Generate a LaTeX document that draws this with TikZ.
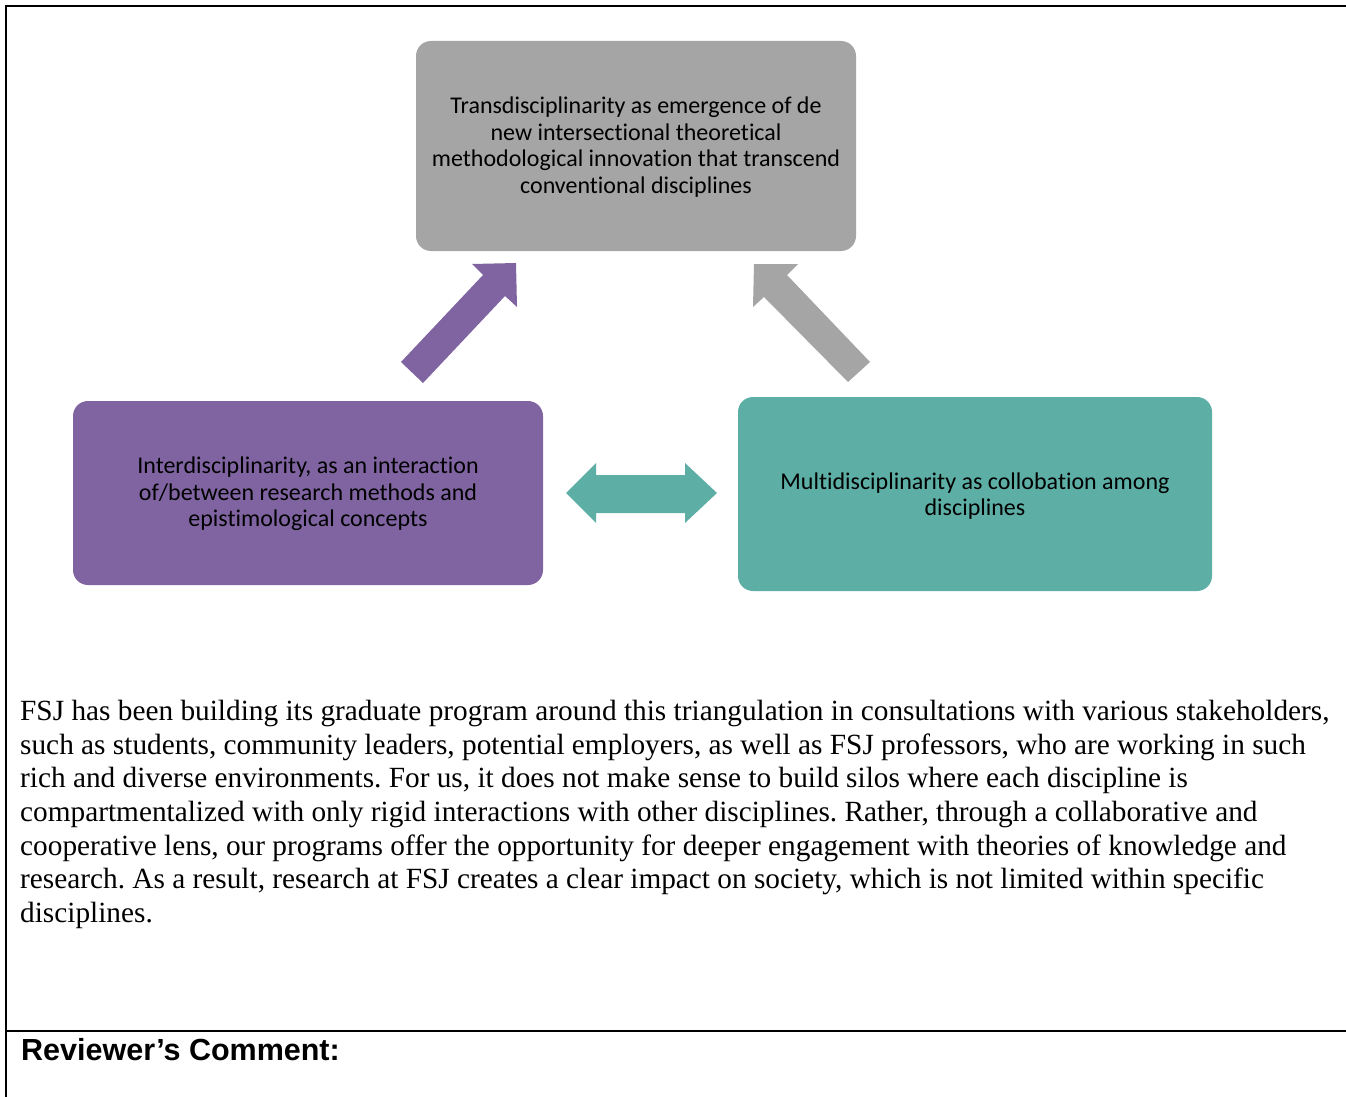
\documentclass[tikz,border=0pt]{standalone}
\usepackage{fontspec}
\setmainfont{Liberation Serif}
\newfontfamily\boxfont[Ligatures={NoCommon},Contextuals={NoAlternate}]{Carlito}
\newfontfamily\headfont{Liberation Sans}
\frenchspacing
\begin{document}
\begin{tikzpicture}[x=1pt,y=-1pt]
\definecolor{grayc}{HTML}{A5A5A5}
\definecolor{purc}{HTML}{8064A2}
\definecolor{tealc}{HTML}{5DAEA5}
\tikzset{
  card/.style={rounded corners=15pt, draw=none},
  boxtxt/.style={align=center, font=\boxfont\fontsize{24}{26.5}\selectfont, text=black, inner sep=0pt},
  bodyline/.style={anchor=base west, inner sep=0pt, font=\frenchspacing\fontsize{29.3}{33.7}\selectfont},
  frame/.style={line width=2pt, black}
}
\useasboundingbox (0,0) rectangle (1346,1097);
\fill[white] (0,0) rectangle (1346,1097);
% frame
\draw[frame] (6,1097) -- (6,6) -- (1346,6);
\draw[frame] (6,1031) -- (1346,1031);
% boxes
\fill[grayc, card] (416,41) rectangle (856,251);
\fill[purc, card] (73,401) rectangle (543,585);
\fill[tealc, card] (738,397) rectangle (1212,591);
\node[boxtxt] (trans) at (636,147) {Transdisciplinarity as emergence of de\\new intersectional theoretical\\methodological innovation that transcend\\conventional disciplines};
\node[boxtxt] (inter) at (308,494) {Interdisciplinarity, as an interaction\\of/between research methods and\\epistimological concepts};
\node[boxtxt] (multi) at (975,496) {Multidisciplinarity as collobation among\\disciplines};
% block arrows
\fill[purc] (401,362) -- (483,275) -- (472,264) -- (516,263) -- (517,307) -- (505,296) -- (423,383) -- cycle;
\fill[grayc] (754,264) -- (798,264) -- (787,275) -- (870,362) -- (848,382) -- (764,297) -- (753,307) -- cycle;
\fill[tealc] (566,493) -- (596,463) -- (596,475) -- (685,475) -- (685,463) -- (717,493) -- (685,523) -- (685,513) -- (596,513) -- (596,523) -- cycle;
% body text
\node[bodyline] (l1) at (20,720) {FSJ has been building its graduate program around this triangulation in consultations with various stakeholders,};
\node[bodyline] (l2) at (20,754) {such as students, community leaders, potential employers, as well as FSJ professors, who are working in such};
\node[bodyline] (l3) at (20,787) {rich and diverse environments. For us, it does not make sense to build silos where each discipline is};
\node[bodyline] (l4) at (20,821) {compartmentalized with only rigid interactions with other disciplines. Rather, through a collaborative and};
\node[bodyline] (l5) at (20,855) {cooperative lens, our programs offer the opportunity for deeper engagement with theories of knowledge and};
\node[bodyline] (l6) at (20,888) {research. As a result, research at FSJ creates a clear impact on society, which is not limited within specific};
\node[bodyline] (l7) at (20,922) {disciplines.};
\node[anchor=base west, inner sep=0pt, font=\headfont\bfseries\fontsize{30.5}{34}\selectfont] (rev) at (21,1060) {Reviewer’s Comment:};
\end{tikzpicture}
\end{document}
